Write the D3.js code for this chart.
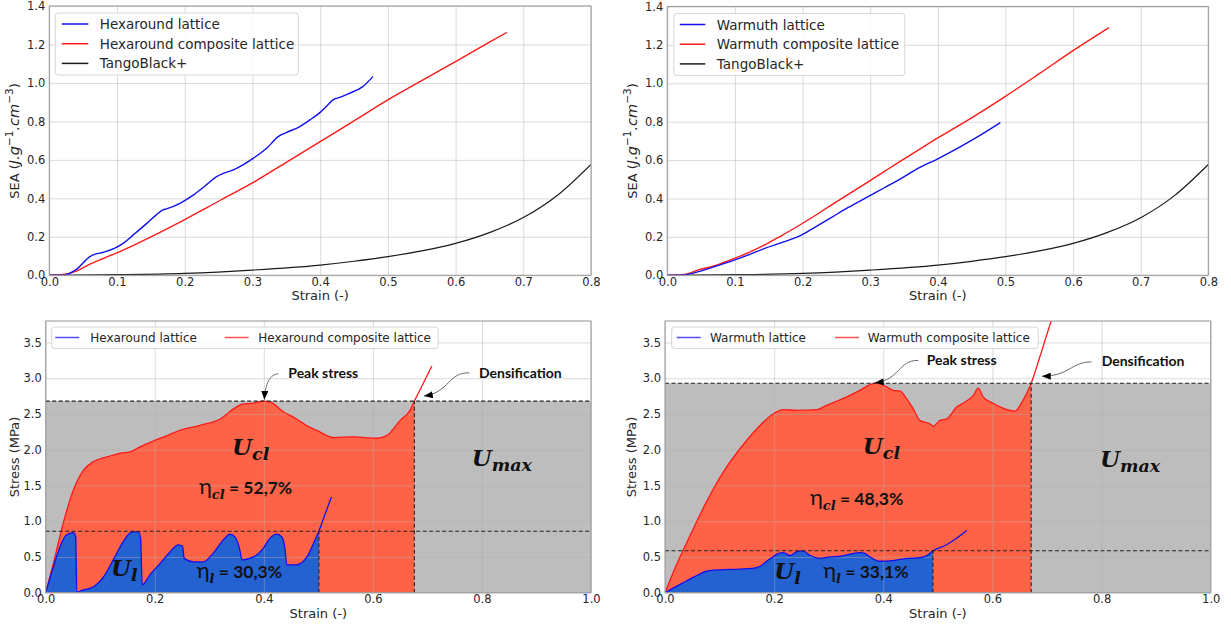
<!DOCTYPE html>
<html><head><meta charset="utf-8">
<script src="https://cdn.jsdelivr.net/npm/d3@7"></script>
<style>
body{margin:0;background:#fff}
svg{display:block}
</style>
</head><body>
<svg id="c" width="1231" height="629"></svg>
<script>
// ---------------- DATA ----------------
// Top: SEA vs strain
const tangoStrain = [0, 0.1, 0.2, 0.3, 0.4, 0.45, 0.5, 0.55, 0.6, 0.65, 0.7, 0.75, 0.8];
const tangoSEA    = [0, 0.003, 0.01, 0.027, 0.053, 0.073, 0.097, 0.127, 0.166, 0.222, 0.3, 0.415, 0.577];

const hexSeaLatStrain = [0, 0.021, 0.04, 0.06, 0.065, 0.08, 0.096, 0.109, 0.124, 0.144, 0.158, 0.168, 0.173, 0.193, 0.213, 0.232, 0.247, 0.257, 0.272, 0.286, 0.301, 0.321, 0.338, 0.35, 0.37, 0.385, 0.4, 0.409, 0.419, 0.429, 0.443, 0.463, 0.478];
const hexSeaLattice   = [0, 0, 0.031, 0.097, 0.106, 0.12, 0.14, 0.166, 0.21, 0.27, 0.314, 0.34, 0.345, 0.374, 0.418, 0.47, 0.513, 0.53, 0.548, 0.574, 0.608, 0.66, 0.721, 0.742, 0.773, 0.808, 0.847, 0.877, 0.912, 0.925, 0.946, 0.981, 1.033];
const hexSeaCompStrain = [0, 0.02, 0.04, 0.06, 0.08, 0.1, 0.15, 0.2, 0.25, 0.3, 0.35, 0.4, 0.45, 0.5, 0.55, 0.6, 0.65, 0.676];
const hexSeaComposite  = [0, 0.004, 0.022, 0.058, 0.088, 0.117, 0.2, 0.29, 0.385, 0.48, 0.587, 0.695, 0.803, 0.912, 1.012, 1.111, 1.212, 1.263];

const warSeaLatStrain = [0, 0.025, 0.046, 0.07, 0.1, 0.12, 0.144, 0.169, 0.196, 0.218, 0.243, 0.267, 0.297, 0.321, 0.346, 0.372, 0.4, 0.433, 0.463, 0.4925];
const warSeaLattice   = [0, 0.002, 0.019, 0.045, 0.08, 0.106, 0.14, 0.17, 0.205, 0.25, 0.302, 0.352, 0.41, 0.456, 0.505, 0.56, 0.607, 0.669, 0.73, 0.795];
const warSeaCompStrain = [0, 0.025, 0.046, 0.07, 0.1, 0.12, 0.144, 0.169, 0.196, 0.218, 0.243, 0.267, 0.297, 0.321, 0.346, 0.371, 0.395, 0.45, 0.5, 0.55, 0.6, 0.653];
const warSeaComposite  = [0, 0.004, 0.028, 0.05, 0.089, 0.118, 0.158, 0.207, 0.262, 0.31, 0.367, 0.42, 0.487, 0.541, 0.597, 0.652, 0.705, 0.82, 0.932, 1.05, 1.17, 1.29];

// Bottom: stress vs strain
const hexStressLatStrain = [0, 0.014, 0.026, 0.0385, 0.051, 0.055, 0.057, 0.069, 0.087, 0.106, 0.124, 0.142, 0.158, 0.17, 0.174, 0.177, 0.191, 0.21, 0.228, 0.243, 0.251, 0.254, 0.271, 0.289, 0.307, 0.326, 0.338, 0.347, 0.356, 0.36, 0.381, 0.399, 0.411, 0.424, 0.433, 0.439, 0.442, 0.46, 0.479, 0.494, 0.501, 0.51, 0.524];
const hexStressLattice   = [0, 0.36, 0.64, 0.81, 0.84, 0.78, 0.01, 0.04, 0.08, 0.22, 0.46, 0.71, 0.85, 0.85, 0.76, 0.11, 0.25, 0.41, 0.57, 0.67, 0.65, 0.48, 0.43, 0.43, 0.55, 0.74, 0.82, 0.78, 0.6, 0.46, 0.5, 0.62, 0.76, 0.82, 0.78, 0.6, 0.39, 0.39, 0.5, 0.74, 0.86, 1.05, 1.34];
const hexStressCompStrain = [0, 0.014, 0.032, 0.051, 0.069, 0.087, 0.112, 0.136, 0.155, 0.173, 0.197, 0.22, 0.246, 0.283, 0.32, 0.35, 0.362, 0.38, 0.399, 0.411, 0.436, 0.46, 0.48, 0.497, 0.528, 0.565, 0.607, 0.626, 0.65, 0.668, 0.676, 0.69, 0.708];
const hexStressComposite  = [0, 0.41, 0.97, 1.44, 1.71, 1.83, 1.9, 1.95, 1.97, 2.04, 2.12, 2.19, 2.27, 2.34, 2.43, 2.6, 2.64, 2.65, 2.68, 2.67, 2.53, 2.43, 2.33, 2.27, 2.17, 2.18, 2.16, 2.2, 2.41, 2.55, 2.68, 2.89, 3.17];

const warStressLatStrain = [0, 0.031, 0.061, 0.076, 0.1, 0.137, 0.16, 0.174, 0.19, 0.198, 0.208, 0.217, 0.229, 0.241, 0.253, 0.266, 0.284, 0.302, 0.321, 0.339, 0.357, 0.366, 0.376, 0.394, 0.418, 0.443, 0.467, 0.48, 0.491, 0.516, 0.535, 0.553];
const warStressLattice   = [0, 0.13, 0.25, 0.3, 0.32, 0.33, 0.34, 0.37, 0.46, 0.5, 0.55, 0.56, 0.52, 0.57, 0.585, 0.52, 0.48, 0.5, 0.51, 0.54, 0.56, 0.55, 0.5, 0.44, 0.45, 0.48, 0.49, 0.52, 0.587, 0.67, 0.765, 0.87];
const warStressCompStrain = [0, 0.018, 0.046, 0.076, 0.107, 0.137, 0.168, 0.198, 0.217, 0.241, 0.278, 0.296, 0.333, 0.357, 0.376, 0.385, 0.394, 0.406, 0.418, 0.431, 0.443, 0.455, 0.467, 0.486, 0.492, 0.504, 0.516, 0.535, 0.546, 0.565, 0.574, 0.583, 0.601, 0.62, 0.641, 0.656, 0.671, 0.687, 0.708];
const warStressComposite  = [0, 0.34, 0.8, 1.27, 1.69, 2.01, 2.29, 2.5, 2.56, 2.55, 2.56, 2.62, 2.74, 2.83, 2.91, 2.93, 2.92, 2.88, 2.83, 2.82, 2.71, 2.57, 2.41, 2.36, 2.33, 2.41, 2.43, 2.6, 2.65, 2.76, 2.86, 2.74, 2.65, 2.58, 2.54, 2.69, 2.93, 3.3, 3.81];

// Reference levels: [peak stress composite, peak stress lattice]; densification strains: [composite, lattice]
const hexLevels = [2.68, 0.86];
const hexDens   = [0.676, 0.501];
const warLevels = [2.93, 0.587];
const warDens   = [0.671, 0.491];

// Ticks
const topXTicks = [0, 0.1, 0.2, 0.3, 0.4, 0.5, 0.6, 0.7, 0.8];
const topYTicks = [0, 0.2, 0.4, 0.6, 0.8, 1.0, 1.2, 1.4];
const botXTicks = [0, 0.2, 0.4, 0.6, 0.8, 1.0];
const botYTicks = [0, 0.5, 1.0, 1.5, 2.0, 2.5, 3.0, 3.5];

// Labels
const hexSeaNames = ["Hexaround lattice", "Hexaround composite lattice", "TangoBlack+"];
const warSeaNames = ["Warmuth lattice", "Warmuth composite lattice", "TangoBlack+"];
const hexStressNames = ["Hexaround lattice", "Hexaround composite lattice"];
const warStressNames = ["Warmuth lattice", "Warmuth composite lattice"];
const hexEff = ["52,7%", "30,3%"];
const warEff = ["48,3%", "33,1%"];

// ---------------- DRAWING ----------------
const svg = d3.select('#c');
const defs = svg.append('defs');
defs.append('marker').attr('id','arrow').attr('viewBox','0 0 10 8')
  .attr('refX',10).attr('refY',4).attr('markerWidth',9).attr('markerHeight',7)
  .attr('markerUnits','userSpaceOnUse').attr('orient','auto')
  .append('path').attr('d','M0,0 L10,4 L0,8 z').attr('fill','#000');

const BLUE = '#1010ee', RED = '#ff1a1a', GRID = '#b0b0b0';
const SANS = '"DejaVu Sans", sans-serif';
const NOTE = 'Lato, "Noto Sans", sans-serif';
const SERIF = '"DejaVu Serif", serif';

const pts = (xs, ys) => xs.map((x, i) => [x, ys[i]]);
let clipN = 0;

function makePanel(box, xDom, yDom, xT, yT) {
  const x = d3.scaleLinear().domain(xDom).range([box.l, box.r]);
  const y = d3.scaleLinear().domain(yDom).range([box.b, box.t]);
  const id = 'clip' + (clipN++);
  defs.append('clipPath').attr('id', id).append('rect')
    .attr('x', box.l).attr('y', box.t).attr('width', box.r - box.l).attr('height', box.b - box.t);
  const g = svg.append('g');
  return {x, y, g, box, xT, yT, clip: `url(#${id})`};
}

function grid(P) {
  const gg = P.g.append('g');
  gg.append('g').attr('transform', `translate(0,${P.box.b})`)
    .call(d3.axisBottom(P.x).tickValues(P.xT).tickSize(-(P.box.b - P.box.t)).tickFormat(''));
  gg.append('g').attr('transform', `translate(${P.box.l},0)`)
    .call(d3.axisLeft(P.y).tickValues(P.yT).tickSize(-(P.box.r - P.box.l)).tickFormat(''));
  gg.selectAll('.domain').remove();
  gg.selectAll('line').attr('stroke', GRID).attr('stroke-opacity', 0.45).attr('stroke-width', 1);
}

function axesText(P, pad) {
  const ax = P.g.append('g').attr('transform', `translate(0,${P.box.b})`)
    .call(d3.axisBottom(P.x).tickValues(P.xT).tickSize(0).tickPadding(pad).tickFormat(d3.format('.1f')));
  const ay = P.g.append('g').attr('transform', `translate(${P.box.l},0)`)
    .call(d3.axisLeft(P.y).tickValues(P.yT).tickSize(0).tickPadding(4).tickFormat(d3.format('.1f')));
  [ax, ay].forEach(a => {
    a.select('.domain').remove();
    a.attr('font-family', null).attr('font-size', null);
    a.selectAll('text').attr('fill', '#262626').style('font-family', SANS).style('font-size', '11.5px');
  });
  P.g.append('rect').attr('x', P.box.l).attr('y', P.box.t)
    .attr('width', P.box.r - P.box.l).attr('height', P.box.b - P.box.t)
    .attr('fill', 'none').attr('stroke', '#9c9c9c').attr('stroke-width', 1.1);
}

function xLabel(P, yb) {
  P.g.append('text').attr('x', (P.box.l + P.box.r) / 2).attr('y', yb).attr('text-anchor', 'middle')
    .style('font-family', SANS).style('font-size', '13px').attr('fill', '#262626').text('Strain (-)');
}

function line(P, data, color, w) {
  P.g.append('path').datum(data).attr('clip-path', P.clip)
    .attr('d', d3.line().x(d => P.x(d[0])).y(d => P.y(d[1])).curve(d3.curveMonotoneX))
    .attr('fill', 'none').attr('stroke', color).attr('stroke-width', w);
}

function legendRows(P, dx, names, colors, lineX0, lineX1, textX, boxW) {
  const g = P.g.append('g');
  g.append('rect').attr('x', P.box.l + dx).attr('y', P.box.t + 7).attr('width', boxW).attr('height', 62)
    .attr('rx', 3).attr('fill', '#fff').attr('fill-opacity', 0.85).attr('stroke', '#d6d6d6');
  names.forEach((n, i) => {
    const yy = P.box.t + 18 + i * 19.7;
    g.append('line').attr('x1', P.box.l + lineX0).attr('x2', P.box.l + lineX1).attr('y1', yy).attr('y2', yy)
      .attr('stroke', colors[i]).attr('stroke-width', 1.5);
    g.append('text').attr('x', P.box.l + textX).attr('y', yy + 5).style('font-family', SANS)
      .style('font-size', '13.5px').attr('fill', '#262626').text(n);
  });
}

function seaYLabel(cx, cy) {
  const t = svg.append('text').attr('transform', `translate(${cx},${cy}) rotate(-90)`)
    .attr('text-anchor', 'middle').style('font-family', SANS).style('font-size', '13px').attr('fill', '#262626');
  t.append('tspan').text('SEA (');
  t.append('tspan').style('font-style', 'italic').style('font-size', '14.5px').text('J.g');
  t.append('tspan').style('font-size', '10.5px').attr('dy', -6).text('−1');
  t.append('tspan').style('font-style', 'italic').style('font-size', '14.5px').attr('dy', 6).text('.cm');
  t.append('tspan').style('font-size', '10.5px').attr('dy', -6).text('−3');
  t.append('tspan').attr('dy', 6).text(')');
}

function stressYLabel(cx, cy) {
  svg.append('text').attr('transform', `translate(${cx},${cy}) rotate(-90)`)
    .attr('text-anchor', 'middle').style('font-family', SANS).style('font-size', '13px').attr('fill', '#262626')
    .text('Stress (MPa)');
}

function seaPanel(box, latX, latY, compX, compY, names) {
  const P = makePanel(box, [0, 0.8], [0, 1.4], topXTicks, topYTicks);
  grid(P);
  line(P, pts(tangoStrain, tangoSEA), '#1a1a1a', 1.2);
  line(P, pts(compX, compY), RED, 1.4);
  line(P, pts(latX, latY), BLUE, 1.4);
  axesText(P, 3);
  xLabel(P, 300);
  return P;
}

function cut(xs, ys, xd) {
  const f = d3.scaleLinear().domain(xs).range(ys);
  const p = pts(xs, ys).filter(d => d[0] < xd);
  p.push([xd, f(xd)]);
  return p;
}

function uText(P, x, y, main, sub, size) {
  const t = P.g.append('text').attr('x', P.x(x)).attr('y', P.y(y))
    .style('font-family', SERIF).style('font-weight', 'bold').style('font-style', 'italic').attr('fill', '#111');
  t.append('tspan').style('font-size', size + 'px').text(main);
  t.append('tspan').style('font-size', (size * 0.76) + 'px').attr('dy', 5).text(sub);
}

function etaText(P, x, y, sub, val) {
  const t = P.g.append('text').attr('x', P.x(x)).attr('y', P.y(y)).attr('fill', '#111');
  t.append('tspan').style('font-family', NOTE).style('font-size', '22px').text('η');
  t.append('tspan').style('font-family', SERIF).style('font-weight', 'bold').style('font-style', 'italic')
    .style('font-size', '13px').attr('dy', 5).text(sub);
  t.append('tspan').style('font-family', NOTE).style('font-weight', 'bold').style('font-size', '17.5px')
    .attr('dy', -5).text(' = ' + val);
}

function note(P, x, y, txt) {
  P.g.append('text').attr('x', P.x(x)).attr('y', P.y(y)).style('font-family', NOTE)
    .style('font-weight', 'bold').style('font-size', '14px').attr('fill', '#111').text(txt);
}

function arrow(P, a) {
  const p = d3.path();
  p.moveTo(P.x(a[0][0]), P.y(a[0][1]));
  p.bezierCurveTo(P.x(a[1][0]), P.y(a[1][1]), P.x(a[2][0]), P.y(a[2][1]), P.x(a[3][0]), P.y(a[3][1]));
  P.g.append('path').attr('d', p.toString()).attr('fill', 'none').attr('stroke', '#6a6a6a')
    .attr('stroke-width', 1).attr('marker-end', 'url(#arrow)');
}

function stressPanel(box, latX, latY, compX, compY, levels, dens, names, eff, L) {
  const P = makePanel(box, [0, 1], [0, 3.8], botXTicks, botYTicks);
  // grey reference energy
  P.g.append('rect').attr('x', P.x(0)).attr('y', P.y(levels[0]))
    .attr('width', P.x(1) - P.x(0)).attr('height', P.y(0) - P.y(levels[0])).attr('fill', '#bdbdbd');
  const area = d3.area().x(d => P.x(d[0])).y0(P.y(0)).y1(d => P.y(d[1])).curve(d3.curveMonotoneX);
  P.g.append('path').datum(cut(compX, compY, dens[0])).attr('d', area).attr('fill', '#ff6347');
  P.g.append('path').datum(cut(latX, latY, dens[1])).attr('d', area).attr('fill', '#2461d1');
  grid(P);
  line(P, pts(compX, compY), RED, 1.3);
  line(P, pts(latX, latY), BLUE, 1.3);
  const dash = (x1, y1, x2, y2) => P.g.append('line')
    .attr('x1', P.x(x1)).attr('y1', P.y(y1)).attr('x2', P.x(x2)).attr('y2', P.y(y2))
    .attr('stroke', '#222').attr('stroke-width', 1.1).attr('stroke-dasharray', '4,2.5');
  dash(0, levels[0], 1, levels[0]);
  dash(0, levels[1], 1, levels[1]);
  dash(dens[0], 0, dens[0], levels[0]);
  dash(dens[1], 0, dens[1], levels[1]);
  axesText(P, 2.5);
  xLabel(P, 618);
  // legend
  const lg = P.g.append('g');
  lg.append('rect').attr('x', P.box.l + L.box[0]).attr('y', P.box.t + 6).attr('width', L.box[1]).attr('height', 21.5)
    .attr('rx', 3).attr('fill', '#fff').attr('fill-opacity', 0.85).attr('stroke', '#d6d6d6');
  [BLUE, RED].forEach((c, i) => {
    lg.append('line').attr('x1', P.box.l + L.lines[i]).attr('x2', P.box.l + L.lines[i] + 24)
      .attr('y1', P.box.t + 16.5).attr('y2', P.box.t + 16.5).attr('stroke', c).attr('stroke-width', 1.5)
      .attr('stroke-opacity', 0.75);
    lg.append('text').attr('x', P.box.l + L.texts[i]).attr('y', P.box.t + 20.5).style('font-family', SANS)
      .style('font-size', '12px').attr('fill', '#262626').text(names[i]);
  });
  // annotations
  uText(P, L.ucl[0], L.ucl[1], 'U', 'cl', 23);
  uText(P, L.ul[0], L.ul[1], 'U', 'l', 23);
  uText(P, L.umax[0], L.umax[1], 'U', 'max', 23);
  etaText(P, L.etacl[0], L.etacl[1], 'cl', eff[0]);
  etaText(P, L.etal[0], L.etal[1], 'l', eff[1]);
  note(P, L.peak[0], L.peak[1], 'Peak stress');
  note(P, L.dens[0], L.dens[1], 'Densification');
  arrow(P, L.peakArrow);
  arrow(P, L.densArrow);
  return P;
}

// Top panels
const TL = seaPanel({l: 49.3, r: 591, t: 6, b: 275.3}, hexSeaLatStrain, hexSeaLattice, hexSeaCompStrain, hexSeaComposite, hexSeaNames);
legendRows(TL, 6, hexSeaNames, [BLUE, RED, '#1a1a1a'], 12.5, 39, 50.5, 243);
const TR = seaPanel({l: 667.3, r: 1208.3, t: 6.5, b: 275.3}, warSeaLatStrain, warSeaLattice, warSeaCompStrain, warSeaComposite, warSeaNames);
legendRows(TR, 6.5, warSeaNames, [BLUE, RED, '#1a1a1a'], 12.5, 38, 49.5, 231);
seaYLabel(19, 141);
seaYLabel(637, 141);

// Bottom panels
stressPanel({l: 45.7, r: 591, t: 321, b: 592.7}, hexStressLatStrain, hexStressLattice, hexStressCompStrain, hexStressComposite,
  hexLevels, hexDens, hexStressNames, hexEff, {
    box: [6, 386.5], lines: [9.5, 179], texts: [44.5, 212.5],
    ucl: [0.3417, 1.92], ul: [0.1198, 0.233], umax: [0.7812, 1.775],
    etacl: [0.2811, 1.3745], etal: [0.2769, 0.2],
    peak: [0.4449, 2.997], dens: [0.7946, 3.005],
    peakArrow: [[0.4266, 3.061], [0.4077, 3.057], [0.402, 2.86], [0.401, 2.70]],
    densArrow: [[0.7768, 3.075], [0.7378, 3.085], [0.7414, 2.805], [0.6938, 2.75]]
  });
stressPanel({l: 665, r: 1210.7, t: 321, b: 592.7}, warStressLatStrain, warStressLattice, warStressCompStrain, warStressComposite,
  warLevels, warDens, warStressNames, warEff, {
    box: [6.7, 366.6], lines: [11.7, 170], texts: [45, 202.7],
    ucl: [0.3623, 1.943], ul: [0.2003, 0.187], umax: [0.797, 1.761],
    etacl: [0.2657, 1.23], etal: [0.29, 0.2],
    peak: [0.4796, 3.183], dens: [0.8002, 3.173],
    peakArrow: [[0.4642, 3.249], [0.427, 3.253], [0.4306, 2.973], [0.3848, 2.938]],
    densArrow: [[0.7819, 3.229], [0.7422, 3.225], [0.7422, 3.029], [0.6909, 3.029]]
  });
stressYLabel(19, 457);
stressYLabel(636, 457);
</script>
</body></html>
